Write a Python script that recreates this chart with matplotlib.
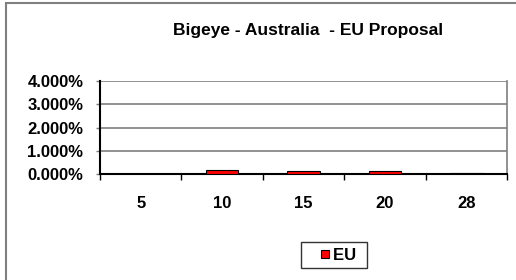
import numpy as np
import matplotlib.pyplot as plt
from matplotlib.patches import Rectangle
from matplotlib.lines import Line2D

categories = ['5', '10', '15', '20', '28']
eu_values = [0.0, 0.17, 0.12, 0.12, 0.06]  # percent
y_ticks = [0, 1, 2, 3, 4]

plt.rcParams['font.family'] = ['Liberation Sans', 'DejaVu Sans']
plt.rcParams['font.weight'] = 'bold'

W, H = 516, 280
fig = plt.figure(figsize=(W / 100, H / 100), dpi=100)
fig.patch.set_facecolor('white')

# outer chart frame (only top and left visible in the crop)
fig.patches.append(Rectangle((6 / W, -0.1), 1.2, (1 - 3 / H) + 0.1,
                             transform=fig.transFigure, fill=False,
                             edgecolor='#7f7f7f', linewidth=1.5))

ax = fig.add_axes([100 / W, 1 - 174 / H, 407 / W, 93 / H])
x = np.arange(len(categories))
ax.bar(x, eu_values, width=0.4, color='#ff0000', edgecolor='black',
       linewidth=0.8, zorder=3, label='EU')

ax.set_xlim(-0.5, len(categories) - 0.5)
ax.set_ylim(0, 4)
ax.set_yticks(y_ticks)
ax.set_yticklabels(['%.3f%%' % v for v in y_ticks], fontsize=12, fontweight='bold')
ax.set_xticks(np.arange(len(categories) + 1) - 0.5)
ax.set_xticklabels([])
ax.set_xticks(x, minor=True)
ax.set_xticklabels(categories, minor=True, fontsize=12, fontweight='bold')
ax.tick_params(axis='x', which='minor', length=0, pad=15.5)
ax.tick_params(axis='x', which='major', length=4, width=1, color='black', direction='out')
ax.tick_params(axis='y', length=3, width=1, color='#7f7f7f', pad=9)

ax.yaxis.grid(True, color='#7f7f7f', linewidth=1.2, zorder=0)
ax.spines['left'].set_color('black')
ax.spines['left'].set_linewidth(1.5)
ax.spines['bottom'].set_color('black')
ax.spines['bottom'].set_linewidth(1.5)
ax.spines['right'].set_color('#7f7f7f')
ax.spines['right'].set_linewidth(1.2)
ax.spines['top'].set_visible(False)

fig.text(308 / W, 1 - 31 / H, 'Bigeye - Australia  - EU Proposal',
         ha='center', va='center', fontsize=12.5, fontweight='bold')

handle = Line2D([], [], marker='s', linestyle='none', markersize=5.5,
                markerfacecolor='#ff0000', markeredgecolor='black',
                markeredgewidth=0.8)
leg = fig.legend([handle], ['EU '], loc='center',
                 bbox_to_anchor=(334 / W, 1 - 255 / H),
                 fontsize=12, frameon=True, fancybox=False,
                 handlelength=2.2, handletextpad=-0.6,
                 borderpad=0.35, borderaxespad=0)
leg.get_frame().set_edgecolor('black')
leg.get_frame().set_linewidth(1)

fig.savefig('out.png', dpi=100)
